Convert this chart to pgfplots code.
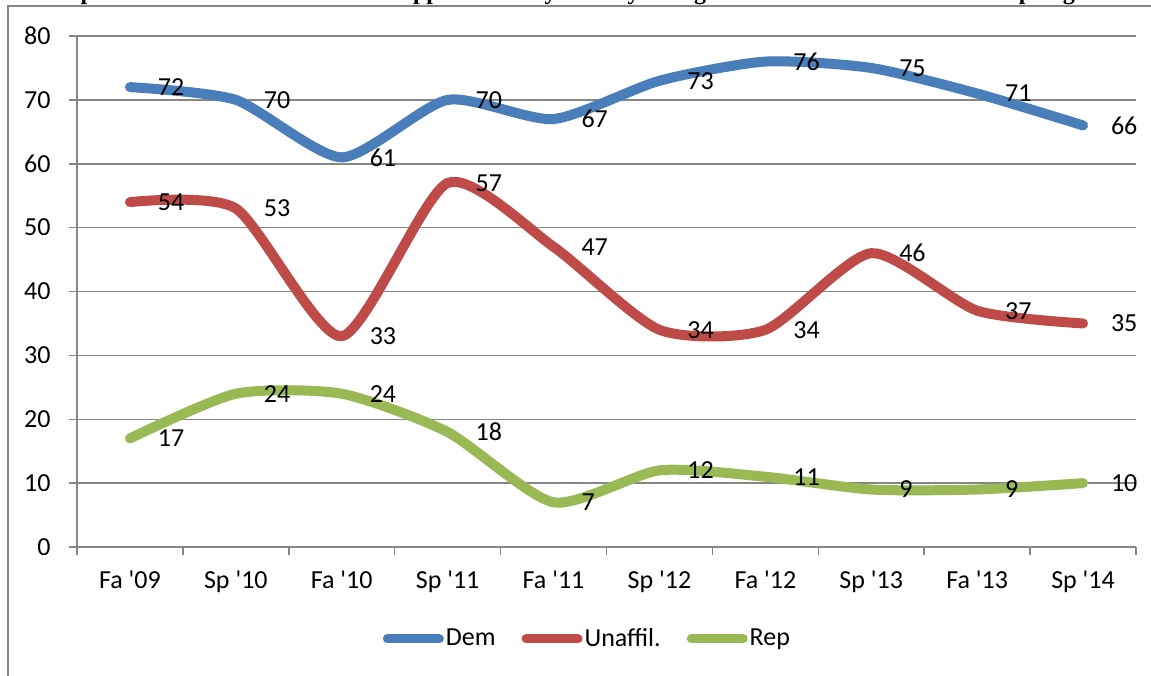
\documentclass[border=0pt]{standalone}
\usepackage{fontspec}
\setmainfont{Carlito}
\newfontfamily\titlefont{Liberation Serif}
\usepackage{pgfplots}
\pgfplotsset{compat=1.18}

\definecolor{demblue}{HTML}{4A7EBB}
\definecolor{unaffred}{HTML}{BE4B48}
\definecolor{repgreen}{HTML}{98B954}
\definecolor{rulegray}{HTML}{868686}

\newcommand{\lbl}{\fontsize{13}{15}\selectfont}

\begin{document}
\begin{tikzpicture}
\useasboundingbox (-38.5pt,-64pt) rectangle (537pt,273.5pt);
\clip (-38.5pt,-64pt) rectangle (537pt,273.5pt);

% outer frame of the chart area
\draw[rulegray, line width=0.75pt] (-34.5pt,-70pt) -- (-34.5pt,270.5pt) -- (545pt,270.5pt);

% heading line (only its lowest part falls inside the page)
\begin{scope}[every node/.style={inner sep=0pt, anchor=base west,
    font=\titlefont\bfseries\fontsize{12}{14}\selectfont}]
  \node at (-19pt,273.8pt) {Graph 3: Percent of Students Who};
  \node at (154.5pt,273.8pt) {Support};
  \node at (227pt,273.8pt) {by};
  \node at (252.5pt,273.8pt) {Party};
  \node at (277pt,273.8pt) {Among};
  \node at (320pt,273.8pt) {Students from Fall 2009 to};
  \node at (464pt,273.8pt) {Spring};
\end{scope}

\begin{axis}[
  width=529.5pt, height=255.5pt, scale only axis,
  xmin=-0.5, xmax=9.5, ymin=0, ymax=80,
  clip=false,
  axis x line*=bottom, axis y line*=left,
  axis line style={rulegray, line width=0.75pt},
  ytick={0,10,...,80},
  xtick={0,...,9},
  xticklabels={Fa \textquotesingle09, Sp \textquotesingle10, Fa \textquotesingle10,
               Sp \textquotesingle11, Fa \textquotesingle11, Sp \textquotesingle12,
               Fa \textquotesingle12, Sp \textquotesingle13, Fa \textquotesingle13,
               Sp \textquotesingle14},
  minor xtick={-0.5,0.5,...,9.5},
  tick align=outside,
  major tick length=4pt, minor tick length=4pt,
  major x tick style={draw=none},
  tick style={rulegray, line width=0.75pt},
  ymajorgrids,
  major grid style={rulegray, line width=0.75pt},
  /pgf/number format/assume math mode=true,
  tick label style={font=\lbl, text=black},
  yticklabel style={anchor=east, inner sep=0pt, xshift=-9pt},
  xticklabel style={anchor=base, inner sep=0pt, yshift=-16.75pt},
  nodes near coords,
  every node near coord/.append style={anchor=west, inner sep=0pt,
      xshift=11.5pt, font=\lbl, text=black},
  legend style={draw=none, fill=none, legend columns=3,
      at={(0.482,-0.18)}, anchor=center, font=\lbl,
      nodes={inner xsep=1pt},
      /tikz/every even column/.append style={column sep=12pt}},
  legend image code/.code={\draw[#1, line width=4.5pt, line cap=round] (0pt,0pt) -- (26pt,0pt);},
  every axis plot/.append style={line width=5pt, line cap=round, line join=round,
      smooth, tension=0.4, mark=none},
]
\addplot[demblue] coordinates {
  (0,72) (1,70) (2,61) (3,70) (4,67) (5,73) (6,76) (7,75) (8,71) (9,66)};
\addlegendentry{Dem}
\addplot[unaffred] coordinates {
  (0,54) (1,53) (2,33) (3,57) (4,47) (5,34) (6,34) (7,46) (8,37) (9,35)};
\addlegendentry{Unaffil.}
\addplot[repgreen] coordinates {
  (0,17) (1,24) (2,24) (3,18) (4,7) (5,12) (6,11) (7,9) (8,9) (9,10)};
\addlegendentry{Rep}
\end{axis}
\end{tikzpicture}
\end{document}
